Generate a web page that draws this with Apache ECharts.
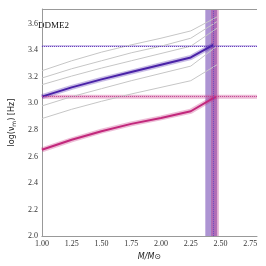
<!DOCTYPE html>
<html><head><meta charset="utf-8">
<script src="https://cdn.jsdelivr.net/npm/echarts@6/dist/echarts.min.js"></script>
<style>html,body{margin:0;padding:0;background:#fff}#c{width:266px;height:266px}</style>
</head><body><div id="c"></div>
<script>
// ---- data ----
const massGray = [1.00, 1.25, 1.50, 1.75, 2.00, 2.25, 2.47];
const gray1 = [3.245, 3.32, 3.385, 3.44, 3.49, 3.545, 3.65];
const gray2 = [3.19, 3.26, 3.32, 3.38, 3.43, 3.49, 3.615];
const gray3 = [3.14, 3.205, 3.265, 3.32, 3.375, 3.43, 3.565];
const gray4 = [2.98, 3.05, 3.11, 3.17, 3.225, 3.28, 3.43];
const gray5 = [2.885, 2.955, 3.015, 3.07, 3.12, 3.17, 3.29];
const massPurple = [1.00, 1.25, 1.50, 1.75, 2.00, 2.25, 2.44];
const purpleCurve = [3.05, 3.12, 3.18, 3.235, 3.29, 3.345, 3.44];
const massPink = [1.00, 1.25, 1.50, 1.75, 2.00, 2.25, 2.46];
const pinkCurve = [2.65, 2.725, 2.79, 2.845, 2.89, 2.94, 3.05];
const purpleMassBand = [2.372, 2.47];
const pinkMassBand = [2.42, 2.485];
const massMarker = 2.437;
const purpleFreq = 3.433, purpleFreqBand = [3.427, 3.439];
const pinkFreq = 3.05, pinkFreqBand = [3.035, 3.065];
const xTicks = [1.00, 1.25, 1.50, 1.75, 2.00, 2.25, 2.50, 2.75];
const yTicks = [2.0, 2.2, 2.4, 2.6, 2.8, 3.0, 3.2, 3.4, 3.6];
const label = 'DDME2';

const PURPLE = '#4a22a8', PINK = '#c2287c';
const zip = (xs, ys) => xs.map((x, i) => [x, ys[i]]);
const serif = 'Liberation Serif';

const grays = [gray1, gray2, gray3, gray4, gray5].map(g => ({
  type: 'line', data: zip(massGray, g), symbol: 'none', silent: true, color: '#c6c6c6',
  lineStyle: { color: '#c6c6c6', width: 1 }, z: 2
}));

function curve(xs, ys, color) {
  return [
    { type: 'line', data: zip(xs, ys), symbol: 'none', silent: true, color: color,
      lineStyle: { color: color, width: 5, opacity: 0.3 }, z: 3 },
    { type: 'line', data: zip(xs, ys), symbol: 'none', silent: true, color: color,
      lineStyle: { color: color, width: 2 }, z: 4 }
  ];
}

const bandSeries = {
  type: 'line', data: [], silent: true, z: 5,
  markArea: {
    silent: true,
    data: [
      [{ xAxis: purpleMassBand[0], itemStyle: { color: 'rgba(105,60,175,0.55)' } }, { xAxis: purpleMassBand[1] }],
      [{ xAxis: pinkMassBand[0], itemStyle: { color: 'rgba(180,50,140,0.4)' } }, { xAxis: pinkMassBand[1] }],
      [{ yAxis: purpleFreqBand[0], itemStyle: { color: 'rgba(110,70,190,0.35)' } }, { yAxis: purpleFreqBand[1] }],
      [{ yAxis: pinkFreqBand[0], itemStyle: { color: 'rgba(205,80,150,0.4)' } }, { yAxis: pinkFreqBand[1] }]
    ]
  },
  markLine: {
    silent: true, symbol: 'none', label: { show: false },
    data: [
      { xAxis: massMarker, lineStyle: { color: '#6a4ac0', type: 'dotted', width: 1 } },
      { yAxis: purpleFreq, lineStyle: { color: '#5a30b8', type: 'dotted', width: 1 } },
      { yAxis: pinkFreq, lineStyle: { color: '#c04090', type: 'dotted', width: 1 } }
    ]
  }
};

const chart = echarts.init(document.getElementById('c'), null, { renderer: 'canvas' });
chart.setOption({
  animation: false,
  grid: { left: 32, right: 9, top: 9, bottom: 29 },
  graphic: [{ type: 'text', left: 38, top: 21, style: { text: label, font: '9px "Liberation Serif"', fill: '#111' } }],
  xAxis: {
    type: 'value', min: xTicks[0], max: 2.806, interval: 0.25,
    name: 'M/M⊙', nameLocation: 'middle', nameGap: 13,
    nameTextStyle: { fontFamily: 'DejaVu Sans', fontStyle: 'italic', fontSize: 8, color: '#222' },
    axisLine: { lineStyle: { color: '#999', width: 1 } },
    axisTick: { show: false },
    axisLabel: { fontFamily: serif, fontSize: 8, color: '#333', margin: 4, showMaxLabel: false,
      formatter: v => xTicks.some(t => Math.abs(t - v) < 1e-6) ? v.toFixed(2) : '' },
    splitLine: { show: false }
  },
  yAxis: {
    type: 'value', min: yTicks[0], max: 3.71, interval: 0.2,
    name: 'log(ν{s|m}) [Hz]', nameLocation: 'middle', nameGap: 17, nameRotate: 90,
    nameTextStyle: { fontFamily: 'DejaVu Sans', fontSize: 8, color: '#222',
      rich: { s: { fontFamily: 'DejaVu Sans', fontSize: 6, verticalAlign: 'bottom', padding: [4, 0, 0, 0] } } },
    axisLine: { show: true, lineStyle: { color: '#999', width: 1 } },
    axisTick: { show: false },
    axisLabel: { fontFamily: serif, fontSize: 8, color: '#333', margin: 4, showMaxLabel: false,
      formatter: v => yTicks.some(t => Math.abs(t - v) < 1e-6) ? v.toFixed(1) : '' },
    splitLine: { show: false }
  },
  series: [bandSeries, ...grays, ...curve(massPurple, purpleCurve, PURPLE), ...curve(massPink, pinkCurve, PINK),
    { type: 'line', data: [], markLine: { silent: true, symbol: 'none', label: { show: false },
      lineStyle: { color: '#999', type: 'solid', width: 1 },
      data: [{ xAxis: 2.806 }, { yAxis: 3.71 }] } }
  ]
});
</script></body></html>
